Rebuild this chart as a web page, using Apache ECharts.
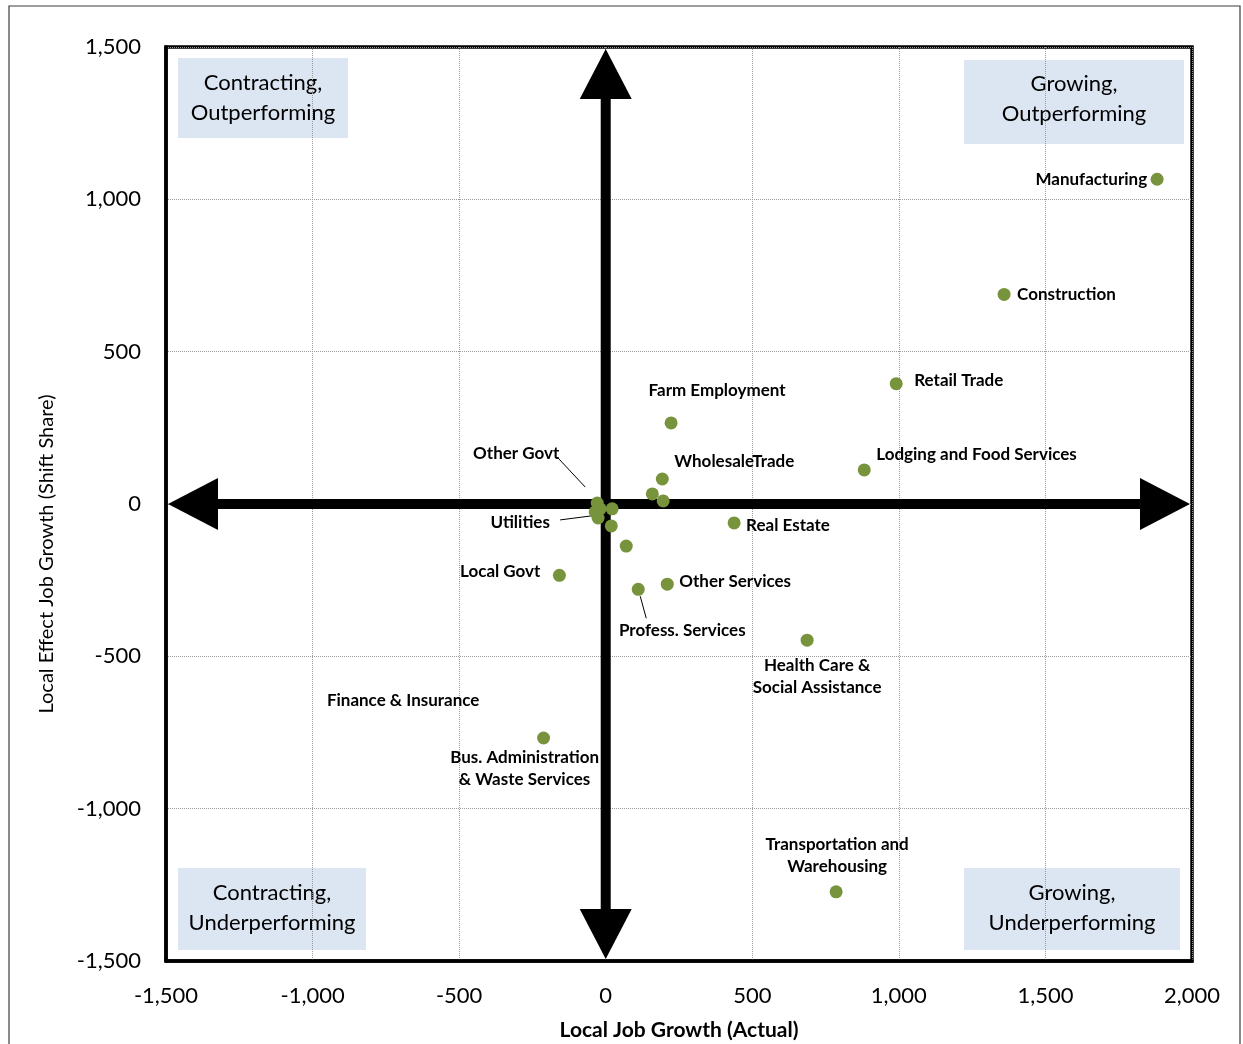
<!DOCTYPE html>
<html>
<head>
<meta charset="utf-8">
<script src="https://cdn.jsdelivr.net/npm/echarts@6/dist/echarts.min.js"></script>
<style>
  html, body { margin: 0; padding: 0; background: #fff; }
  #chart { width: 1243px; height: 1044px; }
</style>
</head>
<body>
<div id="chart"></div>
<script>
// Industry sectors: actual local job growth vs. local-effect (shift share) growth
const industries = [
  'Manufacturing', 'Construction', 'Retail Trade', 'Lodging and Food Services',
  'Farm Employment', 'WholesaleTrade', '', '', 'Real Estate', 'Other Services',
  'Profess. Services', '', '', '', 'Local Govt',
  'Bus. Administration\n& Waste Services', 'Health Care &\nSocial Assistance',
  'Transportation and\nWarehousing', 'Other Govt', 'Utilities',
  'Finance & Insurance', ''
];
const actualGrowth = [1881, 1359, 991, 882, 223, 193, 159, 196, 438, 210, 111, 70, 19, 22, -158, -212, 687, 786, -29, -36, -19, -26];
const localEffect  = [1066, 688, 395, 112, 266, 82, 33, 10, -62, -263, -280, -138, -72, -16, -234, -768, -447, -1273, 3, -26, -16, -46];

const xTicks = [-1500, -1000, -500, 0, 500, 1000, 1500, 2000];
const yTicks = [-1500, -1000, -500, 0, 500, 1000, 1500];

const quadrantNames = {
  topLeft: 'Contracting,\nOutperforming',
  topRight: 'Growing,\nOutperforming',
  bottomLeft: 'Contracting,\nUnderperforming',
  bottomRight: 'Growing,\nUnderperforming'
};

// ---- layout & styling ----
const FONT = 'Lato, "Open Sans", sans-serif';
const GRID = { left: 166, right: 51, top: 47, bottom: 83 };
const xMin = xTicks[0], xMax = xTicks[xTicks.length - 1];
const yMin = yTicks[0], yMax = yTicks[yTicks.length - 1];
const HEAD_LEN = 50, HEAD_W = 52, SHAFT_W = 10, TIP_INSET = 2;

// the two quadrant axes, drawn as double-headed arrows across the full range
const axisArrows = [
  [xMin, 0, xMax, 0],
  [0, yMin, 0, yMax]
];

// label anchor relative to the point centre (pixels)
const labelPlacement = {
  'Manufacturing': { align: 'right', dx: -10, dy: 0 },
  'Construction': { align: 'left', dx: 13, dy: 0 },
  'Retail Trade': { align: 'left', dx: 18, dy: -3 },
  'Lodging and Food Services': { align: 'left', dx: 12, dy: -15 },
  'Farm Employment': { align: 'center', dx: 46, dy: -32 },
  'WholesaleTrade': { align: 'left', dx: 12, dy: -18 },
  'Real Estate': { align: 'left', dx: 12, dy: 3 },
  'Other Services': { align: 'left', dx: 12, dy: -3 },
  'Profess. Services': { align: 'center', dx: 44, dy: 41 },
  'Local Govt': { align: 'right', dx: -19, dy: -4 },
  'Bus. Administration\n& Waste Services': { align: 'center', dx: -19, dy: 31 },
  'Health Care &\nSocial Assistance': { align: 'center', dx: 10, dy: 36 },
  'Transportation and\nWarehousing': { align: 'center', dx: 1, dy: -36 },
  'Other Govt': { align: 'center', dx: -81, dy: -50 },
  'Utilities': { align: 'center', dx: -75, dy: 11 },
  'Finance & Insurance': { align: 'center', dx: -197, dy: 192 }
};

// leader lines, pixel offsets from the point centre
const leaderLines = {
  'Other Govt': [[-12, -16], [-40, -46]],
  'Utilities': [[-4, 4], [-35, 8]],
  'Profess. Services': [[2, 7], [8, 29]]
};

const pointData = industries.map((name, i) => {
  const item = { name: name, value: [actualGrowth[i], localEffect[i], i] };
  if (labelPlacement[name]) {
    item.label = { show: true, formatter: name };
  }
  return item;
});

const leaderData = industries
  .map((name, i) => [actualGrowth[i], localEffect[i], i])
  .filter(d => leaderLines[industries[d[2]]]);

const thousands = v => v.toLocaleString('en-US');

function quadrantBox(x, y, w, h, text, textDy) {
  return {
    type: 'group', x: x, y: y, z: 50,
    children: [
      { type: 'rect', shape: { x: 0, y: 0, width: w, height: h }, style: { fill: '#dce6f2' } },
      {
        type: 'text', x: w / 2, y: h / 2 + (textDy || 0),
        style: {
          text: text, align: 'center', verticalAlign: 'middle',
          fontFamily: FONT, fontSize: 22, lineHeight: 30, fill: '#000'
        }
      }
    ]
  };
}

function renderArrow(params, api) {
  const a = api.coord([api.value(0), api.value(1)]);
  const b = api.coord([api.value(2), api.value(3)]);
  const len = Math.hypot(b[0] - a[0], b[1] - a[1]);
  const ux = (b[0] - a[0]) / len, uy = (b[1] - a[1]) / len;
  const nx = -uy, ny = ux;
  const tipA = [a[0] + ux * TIP_INSET, a[1] + uy * TIP_INSET];
  const tipB = [b[0] - ux * TIP_INSET, b[1] - uy * TIP_INSET];
  const baseA = [tipA[0] + ux * HEAD_LEN, tipA[1] + uy * HEAD_LEN];
  const baseB = [tipB[0] - ux * HEAD_LEN, tipB[1] - uy * HEAD_LEN];
  const hw = HEAD_W / 2;
  const head = (tip, base) => ({
    type: 'polygon',
    shape: { points: [tip, [base[0] + nx * hw, base[1] + ny * hw], [base[0] - nx * hw, base[1] - ny * hw]] },
    style: { fill: '#000' }
  });
  return {
    type: 'group',
    children: [
      {
        type: 'line',
        shape: { x1: baseA[0] - ux, y1: baseA[1] - uy, x2: baseB[0] + ux, y2: baseB[1] + uy },
        style: { stroke: '#000', lineWidth: SHAFT_W, lineCap: 'butt' }
      },
      head(tipA, baseA),
      head(tipB, baseB)
    ]
  };
}

const chart = echarts.init(document.getElementById('chart'), null, { renderer: 'canvas' });

chart.setOption({
  backgroundColor: '#fff',
  animation: false,
  grid: {
    left: GRID.left, right: GRID.right, top: GRID.top, bottom: GRID.bottom,
    outerBoundsMode: 'none', containLabel: false,
    show: true, borderColor: '#000', borderWidth: 3.5, backgroundColor: 'transparent'
  },
  xAxis: {
    type: 'value', min: xMin, max: xMax, interval: 500,
    name: 'Local Job Growth (Actual)', nameLocation: 'middle', nameGap: 59,
    nameTextStyle: { fontFamily: FONT, fontSize: 21, fontWeight: 'bold', color: '#000' },
    axisLine: { show: true, onZero: false, lineStyle: { color: '#000', width: 3.5 } },
    axisTick: { show: false },
    axisLabel: { margin: 24, fontFamily: FONT, fontSize: 22, color: '#000', formatter: thousands },
    splitLine: { show: true, lineStyle: { color: '#9a9a9a', type: 'dotted', width: 1 } }
  },
  yAxis: {
    type: 'value', min: yMin, max: yMax, interval: 500,
    axisLine: { show: true, onZero: false, lineStyle: { color: '#000', width: 3.5 } },
    axisTick: { show: false },
    axisLabel: { margin: 25, fontFamily: FONT, fontSize: 22, color: '#000', formatter: thousands },
    splitLine: { show: true, lineStyle: { color: '#9a9a9a', type: 'dotted', width: 1 } }
  },
  graphic: [
    {
      type: 'rect', z: -10, silent: true,
      shape: { x: 9, y: 6, width: 1231, height: 1100 },
      style: { fill: 'none', stroke: '#3c3c3c', lineWidth: 1.2 }
    },
    {
      type: 'text', x: 47, y: 554, rotation: Math.PI / 2,
      style: {
        text: 'Local Effect Job Growth (Shift Share)', align: 'center', verticalAlign: 'middle',
        fontFamily: FONT, fontSize: 20, fill: '#000'
      }
    },
    quadrantBox(178, 58, 170, 80, quadrantNames.topLeft, 0),
    quadrantBox(964, 60, 220, 84, quadrantNames.topRight, -3),
    quadrantBox(178, 868, 188, 82, quadrantNames.bottomLeft, -1),
    quadrantBox(964, 868, 216, 82, quadrantNames.bottomRight, -1)
  ],
  series: [
    {
      type: 'custom', z: 1, silent: true,
      encode: { x: [0, 2], y: [1, 3] },
      data: axisArrows,
      renderItem: renderArrow
    },
    {
      type: 'custom', z: 2, silent: true,
      data: leaderData,
      renderItem: function (params, api) {
        const pt = api.coord([api.value(0), api.value(1)]);
        const seg = leaderLines[industries[api.value(2)]];
        return {
          type: 'line',
          shape: { x1: pt[0] + seg[0][0], y1: pt[1] + seg[0][1], x2: pt[0] + seg[1][0], y2: pt[1] + seg[1][1] },
          style: { stroke: '#000', lineWidth: 1 }
        };
      }
    },
    {
      type: 'scatter', z: 3,
      symbol: 'circle', symbolSize: 13,
      itemStyle: { color: '#77933c', opacity: 1 },
      label: {
        show: false, position: 'inside', fontFamily: FONT, fontSize: 17, fontWeight: 'bold',
        color: '#000', lineHeight: 22
      },
      labelLayout: function (params) {
        const place = labelPlacement[industries[params.dataIndex]];
        if (!place) return {};
        const cx = params.rect.x + params.rect.width / 2;
        const cy = params.rect.y + params.rect.height / 2;
        return { x: cx + place.dx, y: cy + place.dy, align: place.align, verticalAlign: 'middle', hideOverlap: false };
      },
      data: pointData
    }
  ]
});
</script>
</body>
</html>
